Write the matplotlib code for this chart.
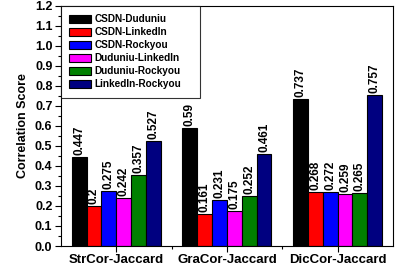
import numpy as np
import matplotlib.pyplot as plt
from matplotlib.ticker import MultipleLocator, FixedLocator

plt.rcParams['font.family'] = ['Liberation Sans', 'DejaVu Sans']
plt.rcParams['font.weight'] = 'bold'

categories = ["StrCor-Jaccard", "GraCor-Jaccard", "DicCor-Jaccard"]
series = ["CSDN-Duduniu", "CSDN-LinkedIn", "CSDN-Rockyou",
          "Duduniu-LinkedIn", "Duduniu-Rockyou", "LinkedIn-Rockyou"]
csdn_duduniu = [0.447, 0.59, 0.737]
csdn_linkedin = [0.2, 0.161, 0.268]
csdn_rockyou = [0.275, 0.231, 0.272]
duduniu_linkedin = [0.242, 0.175, 0.259]
duduniu_rockyou = [0.357, 0.252, 0.265]
linkedin_rockyou = [0.527, 0.461, 0.757]
values = [csdn_duduniu, csdn_linkedin, csdn_rockyou,
          duduniu_linkedin, duduniu_rockyou, linkedin_rockyou]
colors = ["#000000", "#ff0000", "#0000ff", "#ff00ff", "#008000", "#000080"]

fig = plt.figure(figsize=(3.95, 2.69), dpi=100)
ax = fig.add_axes([0.154, 0.0855, 0.841, 0.8925])

x = np.arange(len(categories))
w = 0.134
for i, (name, vals) in enumerate(zip(series, values)):
    pos = x + (i - 2.5) * w
    ax.bar(pos, vals, w, color=colors[i], edgecolor='black', linewidth=0.8, label=name)
    for p, v in zip(pos, vals):
        ax.text(p, v + 0.01, str(v), rotation=90, ha='center', va='bottom',
                fontsize=8.5, fontweight='bold')

ax.set_xlim(-0.5, 2.5)
ax.set_ylim(0, 1.2)
ax.set_xticks(x)
ax.set_xticklabels(categories, fontsize=9.5, fontweight='bold')
ax.xaxis.set_minor_locator(FixedLocator([0.5, 1.5]))
ax.yaxis.set_major_locator(MultipleLocator(0.1))
ax.yaxis.set_minor_locator(MultipleLocator(0.05))
ax.yaxis.set_major_formatter(plt.FormatStrFormatter('%.1f'))
for lab in ax.get_yticklabels():
    lab.set_fontsize(9)
    lab.set_fontweight('bold')
ax.tick_params(axis='both', which='major', direction='out', length=4, width=0.8, pad=2)
ax.tick_params(axis='both', which='minor', direction='out', length=2, width=0.8)
ax.set_ylabel("Correlation Score", fontsize=9, fontweight='bold', labelpad=4)

leg = ax.legend(loc='upper left', bbox_to_anchor=(0, 0, 0.419, 1), mode='expand',
                fontsize=7.2, frameon=True, fancybox=False,
                edgecolor='black', borderaxespad=0, handlelength=2.2,
                handleheight=0.95, labelspacing=0.3, borderpad=0.85,
                handletextpad=0.3)
leg.get_frame().set_linewidth(0.8)
for t in leg.get_texts():
    t.set_fontweight('bold')

fig.savefig("out.png", dpi=100)
